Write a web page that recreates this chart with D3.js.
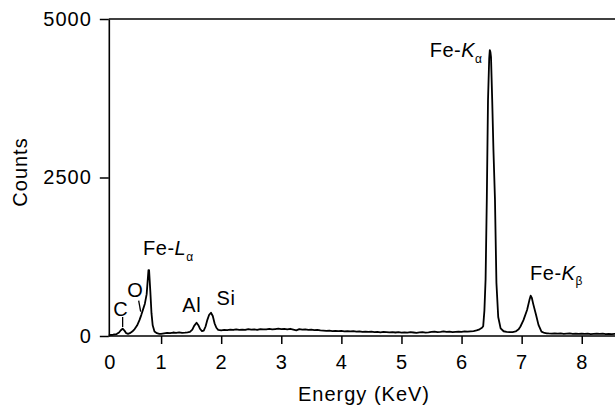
<!DOCTYPE html>
<html>
<head>
<meta charset="utf-8">
<script src="https://cdn.jsdelivr.net/npm/d3@7"></script>
<style>
  body { margin: 0; background: #fff; }
  svg text { font-family: "Liberation Sans", Arial, Helvetica, sans-serif; fill: #000; }
</style>
</head>
<body>
<div id="chart"></div>
<script>
// EDS spectrum (keV, counts)
const energy = [
    0.13, 0.20, 0.26, 0.30, 0.33, 0.36, 0.39, 0.42, 0.45, 0.48, 0.52, 0.56, 0.60, 0.64, 0.67, 0.70, 0.73, 0.76, 0.79, 0.80, 0.82, 0.84, 0.86, 0.89, 0.93, 0.97,
    1.00, 1.05, 1.10, 1.15, 1.20, 1.25, 1.30, 1.35, 1.40, 1.44, 1.48, 1.52, 1.55, 1.59, 1.62, 1.65, 1.68, 1.71, 1.74, 1.77, 1.80, 1.83, 1.86, 1.89, 1.92, 1.95,
    2.00, 2.05, 2.10, 2.15, 2.20, 2.25, 2.30, 2.35, 2.40, 2.45, 2.50, 2.55, 2.60, 2.65, 2.70, 2.75, 2.80, 2.85, 2.90, 2.95,
    3.00, 3.05, 3.10, 3.15, 3.20, 3.25, 3.30, 3.35, 3.40, 3.45, 3.50, 3.55, 3.60, 3.65, 3.70, 3.75, 3.80, 3.85, 3.90, 3.95,
    4.00, 4.05, 4.10, 4.15, 4.20, 4.25, 4.30, 4.35, 4.40, 4.45, 4.50, 4.55, 4.60, 4.65, 4.70, 4.75, 4.80, 4.85, 4.90, 4.95,
    5.00, 5.05, 5.10, 5.15, 5.20, 5.25, 5.30, 5.35, 5.40, 5.45, 5.50, 5.55, 5.60, 5.65, 5.70, 5.75, 5.80, 5.85, 5.90, 5.95,
    6.00, 6.05, 6.10, 6.15, 6.20, 6.25, 6.30, 6.34, 6.36, 6.38, 6.40, 6.42, 6.44, 6.46, 6.47, 6.48, 6.49, 6.51, 6.53, 6.556, 6.58, 6.61, 6.65, 6.70, 6.75, 6.80, 6.85, 6.90, 6.95, 6.98,
    7.03, 7.09, 7.13, 7.15, 7.17, 7.19, 7.24, 7.28, 7.33, 7.38, 7.42, 7.45, 7.50, 7.55, 7.60, 7.65, 7.70, 7.75, 7.80, 7.85, 7.90, 7.95,
    8.00, 8.05, 8.10, 8.15, 8.20, 8.25, 8.30, 8.35, 8.40, 8.45, 8.50, 8.55, 8.60
];
const counts = [
    15, 20, 30, 55, 90, 115, 85, 45, 35, 45, 70, 110, 165, 250, 330, 420, 510, 660, 1040, 1040, 720, 360, 170, 70, 45, 35,
    35, 42, 50, 46, 55, 50, 56, 48, 52, 58, 65, 100, 160, 210, 170, 110, 78, 85, 150, 255, 335, 367, 315, 200, 130, 98,
    90, 98, 92, 100, 95, 105, 98, 102, 96, 108, 100, 104, 97, 110, 103, 106, 112, 104, 110, 115,
    108, 112, 105, 114, 102, 90, 108, 100, 104, 96, 100, 92, 98, 88, 85, 80, 84, 78, 82, 76,
    80, 74, 78, 72, 76, 70, 74, 66, 70, 64, 68, 62, 66, 58, 64, 60, 56, 62, 55, 60,
    54, 58, 52, 60, 55, 50, 56, 62, 54, 58, 64, 70, 62, 66, 72, 64, 68, 62, 66, 70,
    66, 72, 68, 74, 78, 88, 105, 130, 155, 400, 900, 2150, 3720, 4380, 4510, 4480, 4400, 3720, 2950, 2150, 840, 300, 120, 75, 65, 60, 62, 72, 105, 150,
    250, 410, 570, 636, 600, 515, 330, 175, 70, 48, 42, 40, 38, 42, 36, 40, 34, 38, 42, 35, 38, 33,
    37, 32, 36, 30, 34, 38, 32, 36, 30, 34, 30, 33, 30
];

const xTicks = [1, 2, 3, 4, 5, 6, 7, 8];
const yTicks = [0, 2500, 5000];

// peak labels: [keV, counts] of text start / centre, main text, italic part, subscript
const peakLabels = [
    { e: 5.47, c: 4405, main: "Fe-", ital: "K", sub: "α", anchor: "start" },
    { e: 0.70, c: 1277, main: "Fe-", ital: "L", sub: "α", anchor: "start" },
    { e: 7.14, c: 883, main: "Fe-", ital: "K", sub: "β", anchor: "start" },
    { e: 0.33, c: 315, main: "C", ital: "", sub: "", anchor: "middle" },
    { e: 0.57, c: 615, main: "O", ital: "", sub: "", anchor: "middle" },
    { e: 1.51, c: 378, main: "Al", ital: "", sub: "", anchor: "middle" },
    { e: 2.08, c: 489, main: "Si", ital: "", sub: "", anchor: "middle" }
];
// little leader strokes under C and O
const leaders = [
    { e1: 0.36, c1: 300, e2: 0.36, c2: 142 },
    { e1: 0.627, c1: 557, e2: 0.66, c2: 383 }
];

const width = 615, height = 409;
const xMin = 0.13, xMax = 8.57;
const fontSize = "20px";

const svg = d3.select("#chart").append("svg")
    .attr("width", width)
    .attr("height", height);

const x = d3.scaleLinear().domain([0, xMax]).range([101, 616]);
const y = d3.scaleLinear().domain([0, 5000]).range([336, 19]);

const spectrum = energy.map((e, i) => ({ e: e, c: counts[i] }));

// axes
const xAxis = svg.append("g")
    .attr("transform", "translate(0," + y(0) + ")")
    .call(d3.axisBottom(x).tickValues(xTicks).tickSize(8).tickPadding(11).tickSizeOuter(0));
xAxis.select(".domain").remove();

const yAxis = svg.append("g")
    .attr("transform", "translate(" + x(xMin) + ",0)")
    .call(d3.axisLeft(y).tickValues(yTicks).tickFormat(d3.format("d"))
        .tickSize(9).tickPadding(8).tickSizeOuter(0));

svg.selectAll(".tick line").attr("stroke", "#000").attr("stroke-width", 1.5);
yAxis.select(".domain").attr("stroke", "#000").attr("stroke-width", 1.6);
svg.selectAll(".tick text")
    .style("font-size", fontSize)
    .style("letter-spacing", "1px")
    .attr("fill", "#000");

// zero label at the corner
svg.append("text")
    .attr("x", x(xMin) + 1)
    .attr("y", y(0) + 19)
    .attr("dy", "0.71em")
    .attr("text-anchor", "middle")
    .style("font-size", fontSize)
    .text("0");

// bottom and top frame lines
svg.append("line")
    .attr("x1", x(xMin)).attr("x2", width)
    .attr("y1", y(0)).attr("y2", y(0))
    .attr("stroke", "#000").attr("stroke-width", 1.6);
svg.append("line")
    .attr("x1", x(xMin)).attr("x2", width)
    .attr("y1", y(5000)).attr("y2", y(5000))
    .attr("stroke", "#000").attr("stroke-width", 1.6);

// spectrum
const line = d3.line()
    .x(d => x(d.e))
    .y(d => y(d.c));

svg.append("path")
    .datum(spectrum)
    .attr("fill", "none")
    .attr("stroke", "#000")
    .attr("stroke-width", 1.8)
    .attr("stroke-linejoin", "round")
    .attr("d", line);

// peak labels
peakLabels.forEach(p => {
    const t = svg.append("text")
        .attr("x", x(p.e))
        .attr("y", y(p.c))
        .attr("text-anchor", p.anchor)
        .style("font-size", fontSize)
        .style("letter-spacing", "0.5px");
    t.append("tspan").text(p.main);
    if (p.ital) {
        t.append("tspan").style("font-style", "italic").text(p.ital);
        t.append("tspan")
            .attr("dy", p.sub === "β" ? 5 : 6)
            .style("font-size", "12px")
            .style("letter-spacing", "0px")
            .text(p.sub);
    }
});

svg.selectAll(".leader")
    .data(leaders)
    .enter().append("line")
    .attr("class", "leader")
    .attr("x1", d => x(d.e1)).attr("y1", d => y(d.c1))
    .attr("x2", d => x(d.e2)).attr("y2", d => y(d.c2))
    .attr("stroke", "#000")
    .attr("stroke-width", 1.3);

// axis titles
svg.append("text")
    .attr("x", 364)
    .attr("y", 401)
    .attr("text-anchor", "middle")
    .style("font-size", fontSize)
    .style("letter-spacing", "1px")
    .text("Energy (KeV)");

svg.append("text")
    .attr("transform", "translate(27,172) rotate(-90)")
    .attr("text-anchor", "middle")
    .style("font-size", fontSize)
    .style("letter-spacing", "1px")
    .text("Counts");
</script>
</body>
</html>
